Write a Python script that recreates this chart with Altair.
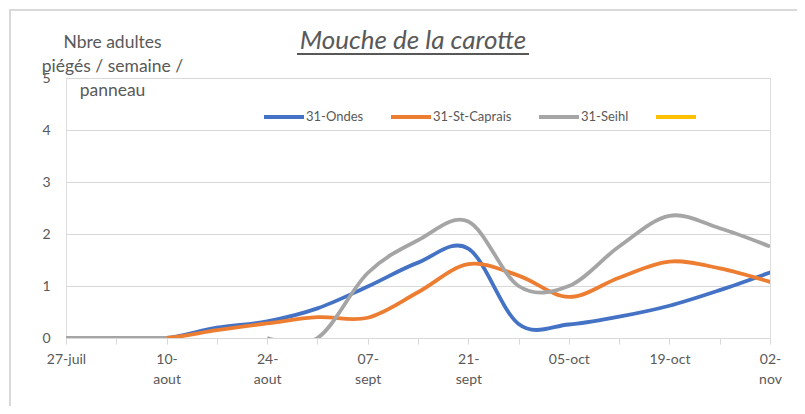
import altair as alt
import pandas as pd

# ---- data ----
weeks = ["27-juil", "03-aout", "10-aout", "17-aout", "24-aout", "31-aout", "07-sept",
         "14-sept", "21-sept", "28-sept", "05-oct", "12-oct", "19-oct", "26-oct", "02-nov"]
shown_labels = {0: ["27-juil"], 2: ["10-", "aout"], 4: ["24-", "aout"], 6: ["07-", "sept"],
                8: ["21-", "sept"], 10: ["05-oct"], 12: ["19-oct"], 14: ["02-", "nov"]}
series_names = ["31-Ondes", "31-St-Caprais", "31-Seihl", "Série4"]
colors = ["#4472C4", "#ED7D31", "#A5A5A5", "#FFC000"]

ondes = [0, 0, 0, 0.2, 0.32, 0.57, 0.99, 1.45, 1.72, 0.27, 0.26, 0.41, 0.62, 0.92, 1.26]
st_caprais = [0, 0, 0, 0.15, 0.28, 0.4, 0.39, 0.88, 1.42, 1.2, 0.79, 1.16, 1.47, 1.34, 1.08]
seihl = [0, 0, 0, None, 0, 0, 1.25, 1.88, 2.24, 1.0, 1.0, 1.76, 2.35, 2.11, 1.76]

y_title = ["Nbre adultes", "piégés / semaine /", "panneau"]
chart_title = "Mouche de la carotte"

rows = []
for name, vals in zip(series_names[:3], [ondes, st_caprais, seihl]):
    seg = 0
    for i, v in enumerate(vals):
        if v is None:
            seg += 1
            continue
        rows.append({"week": i, "label": weeks[i], "value": v, "series": name,
                     "seg": f"{name}-{seg}"})
df = pd.DataFrame(rows)

FONT = "Lato"
TXT = "#595959"
GRID = "#D9D9D9"


def js(s):
    return "'" + s.replace("'", "\\'") + "'"


label_expr = ""
for k, lines in shown_labels.items():
    label_expr += f"datum.value == {k} ? [{', '.join(js(l) for l in lines)}] : "
label_expr += "''"

x_enc = alt.X("week:Q",
              scale=alt.Scale(domain=[0, len(weeks) - 1], nice=False, zero=False),
              axis=alt.Axis(values=list(range(len(weeks))), title=None, grid=False,
                            labelExpr=label_expr, domainColor=GRID, domainWidth=1,
                            tickColor=GRID, tickSize=6, labelFontSize=14, labelColor=TXT,
                            labelFont=FONT, labelPadding=8, labelLineHeight=20,
                            labelOverlap=False, labelFlush=False, labelBound=False))
y_enc = alt.Y("value:Q",
              scale=alt.Scale(domain=[0, 5], nice=False),
              axis=alt.Axis(values=[0, 1, 2, 3, 4, 5], title=y_title, titleAngle=0,
                            titleX=46, titleY=-45, titleAlign="center", titleBaseline="top",
                            titleFontSize=17.5, titleFontWeight="normal", titleColor=TXT,
                            titleFont=FONT, titleLineHeight=24,
                            grid=True, gridColor=GRID, gridWidth=1, domain=False, ticks=False,
                            labelPadding=16, labelFontSize=14, labelColor=TXT, labelFont=FONT))

color_scale = alt.Scale(domain=series_names, range=colors)
legend = alt.Legend(orient="none", legendX=196, legendY=17, direction="horizontal",
                    title=None, symbolType="stroke", symbolSize=1600, symbolStrokeWidth=4,
                    labelFontSize=13, labelColor=TXT, labelFont=FONT, columnPadding=19,
                    labelOffset=0, labelExpr="datum.label == 'Série4' ? '' : datum.label")

layers = []
for idx, name in enumerate(series_names[:3]):
    layer = alt.Chart(df).transform_filter(alt.datum.series == name).mark_line(
        interpolate="cardinal", tension=0, strokeWidth=3.8,
        strokeCap="butt" if name == "31-Seihl" else "round",
        strokeJoin="round", clip=True
    ).encode(
        x=x_enc, y=y_enc,
        color=alt.Color("series:N", scale=color_scale, legend=legend if idx == 0 else None),
        detail="seg:N",
    )
    layers.append(layer)

border = alt.Chart(df).mark_rect(fillOpacity=0, stroke=GRID, strokeWidth=1.3).encode(
    x=alt.value(-56), y=alt.value(-68), x2=alt.value(800), y2=alt.value(400))
underline = alt.Chart(df).mark_rule(color=TXT, strokeWidth=1.5).encode(
    x=alt.value(231), x2=alt.value(463), y=alt.value(-24))

chart = alt.layer(border, underline, *layers).properties(
    width=704, height=260,
    autosize=alt.AutoSizeParams(type="none"),
    padding={"left": 58, "top": 70, "right": 27, "bottom": 68},
    title=alt.TitleParams(text=chart_title, anchor="middle", frame="group", fontSize=26,
                          fontStyle="italic", fontWeight="normal", font=FONT, color=TXT,
                          dx=-5, dy=70, baseline="alphabetic"),
).configure_view(stroke=None).configure(background="white")

chart.save("out.html", embed_options={"renderer": "svg", "actions": False})
